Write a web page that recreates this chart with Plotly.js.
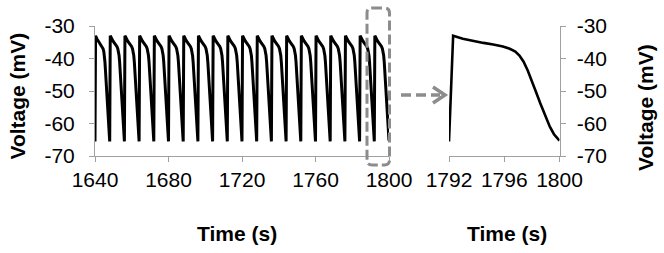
<!DOCTYPE html>
<html>
<head>
<meta charset="utf-8">
<script src="https://cdn.plot.ly/plotly-3.0.1.min.js"></script>
<style>html,body{margin:0;padding:0;background:#fff;}#chart{width:664px;height:253px;}</style>
</head>
<body>
<div id="chart"></div>
<script>
// ---- data ----
// start time (s) of each action-potential cycle in the long trace
var cycleStarts = [1640, 1648, 1656, 1664, 1672, 1680, 1688, 1696, 1704, 1712,
                   1720, 1728, 1736, 1744, 1752, 1760, 1768, 1776, 1784, 1792];
// one cycle of the waveform: time from cycle start (s) and voltage (mV)
var cycleOffset  = [0, 0.3, 1.0, 1.75, 2.5, 3.2, 3.9, 4.4, 4.8, 5.1, 5.4, 5.7, 6.0, 6.3, 6.6, 6.8, 7.1, 7.3, 7.6, 7.9, 8.0];
var cycleVoltage = [-65.5, -33.0, -33.9, -34.6, -35.2, -35.7, -36.3, -37.0, -37.9, -39.1, -41.0, -43.7, -46.8, -50.3, -53.7, -55.9, -59.0, -61.0, -63.3, -64.9, -65.3];
// zoomed window
var zoomStart = 1792, zoomEnd = 1800;
var leftTicks = [1640, 1680, 1720, 1760, 1800];
var rightTicks = [1792, 1796, 1800];
var voltTicks = [-70, -60, -50, -40, -30];
var voltTickText = ['-70', '-60', '-50', '-40', '-30'];
var xTitle = 'Time (s)';
var yTitle = 'Voltage (mV)';

// ---- build traces ----
var longT = [], longV = [];
cycleStarts.forEach(function (s) {
  cycleOffset.forEach(function (o, i) { longT.push(s + o); longV.push(cycleVoltage[i]); });
});
var zoomT = cycleOffset.map(function (o) { return zoomStart + o; });

var W = 664, H = 253;
function px(x) { return x / W; }
function py(y) { return 1 - y / H; }

var tickFont = {family: 'Liberation Sans, Arial, sans-serif', size: 21, color: '#000'};
var titleFont = {family: 'Liberation Sans, Arial, sans-serif', size: 21, color: '#000', weight: 700};
var axCommon = {
  showline: true, linecolor: '#a0a0a0', linewidth: 1,
  ticks: 'outside', ticklen: 5, tickcolor: '#a0a0a0', tickwidth: 1,
  showgrid: false, zeroline: false, tickfont: tickFont, fixedrange: true
};
function ax(extra) { return Object.assign({}, axCommon, extra); }

var yDom = [py(156), py(26)];

var data = [
  {x: longT, y: longV, xaxis: 'x', yaxis: 'y', mode: 'lines', line: {color: '#000', width: 3}, hoverinfo: 'skip'},
  {x: zoomT, y: cycleVoltage, xaxis: 'x2', yaxis: 'y2', mode: 'lines', line: {color: '#000', width: 2.6}, hoverinfo: 'skip'}
];

// rounded dashed box around the zoom window (paper coords, pixels of the picture)
var bx0 = 367, bx1 = 389.5, byT = 8, byB = 165, r = 5;
var boxPath = 'M ' + px(bx0 + r) + ' ' + py(byT) + ' L ' + px(bx1 - r) + ' ' + py(byT) +
  ' Q ' + px(bx1) + ' ' + py(byT) + ' ' + px(bx1) + ' ' + py(byT + r) +
  ' L ' + px(bx1) + ' ' + py(byB - r) + ' Q ' + px(bx1) + ' ' + py(byB) + ' ' + px(bx1 - r) + ' ' + py(byB) +
  ' L ' + px(bx0 + r) + ' ' + py(byB) + ' Q ' + px(bx0) + ' ' + py(byB) + ' ' + px(bx0) + ' ' + py(byB - r) +
  ' L ' + px(bx0) + ' ' + py(byT + r) + ' Q ' + px(bx0) + ' ' + py(byT) + ' ' + px(bx0 + r) + ' ' + py(byT) + ' Z';

function title(text, x, y, angle) {
  return {text: text, xref: 'paper', yref: 'paper', x: px(x), y: py(y), xanchor: 'center', yanchor: 'middle',
    showarrow: false, textangle: angle, font: titleFont};
}

var layout = {
  width: W, height: H,
  margin: {l: 0, r: 0, t: 0, b: 0},
  paper_bgcolor: '#fff', plot_bgcolor: '#fff',
  showlegend: false,
  xaxis: ax({domain: [px(95), px(389)], range: [1640, 1800], tickvals: leftTicks, anchor: 'y', ticklabelstandoff: 0}),
  yaxis: ax({domain: yDom, range: [-70, -30], tickvals: voltTicks, ticktext: voltTickText, anchor: 'x', ticklabelstandoff: 10}),
  xaxis2: ax({domain: [px(449), px(559.5)], range: [zoomStart, zoomEnd], tickvals: rightTicks, anchor: 'y2', ticklabelstandoff: 0}),
  yaxis2: ax({domain: yDom, range: [-70, -30], tickvals: voltTicks, ticktext: voltTickText, anchor: 'x2', side: 'right', ticklabelstandoff: 7}),
  annotations: [
    title(xTitle, 237, 233, 0),
    title(xTitle, 507.5, 233, 0),
    title(yTitle, 17, 96.5, -90),
    title(yTitle, 645.5, 107.5, -90)
  ],
  shapes: [
    {type: 'path', xref: 'paper', yref: 'paper', path: boxPath, line: {color: '#8c8c8c', width: 3, dash: '10px,4px'}, layer: 'above'},
    {type: 'line', xref: 'paper', yref: 'paper', x0: px(401), x1: px(440), y0: py(95), y1: py(95),
      line: {color: '#8c8c8c', width: 3.5, dash: '10px,5px'}},
    {type: 'path', xref: 'paper', yref: 'paper',
      path: 'M ' + px(433) + ' ' + py(87) + ' L ' + px(445) + ' ' + py(95) + ' L ' + px(433) + ' ' + py(103),
      line: {color: '#8c8c8c', width: 3.5}}
  ]
};

Plotly.newPlot('chart', data, layout, {staticPlot: true, displayModeBar: false});
</script>
</body>
</html>
